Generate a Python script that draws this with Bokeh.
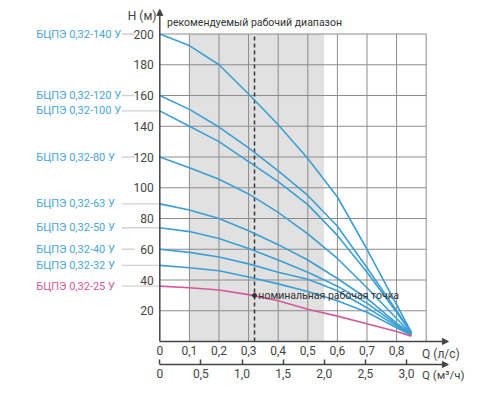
from bokeh.plotting import figure
from bokeh.models import Range1d, LinearAxis, FixedTicker, Arrow, NormalHead, ColumnDataSource
from bokeh.core.properties import value
from bokeh.embed import file_html
from bokeh.resources import INLINE

# ---- data ----
q = [0, 0.1, 0.2, 0.3, 0.4, 0.5, 0.6, 0.7, 0.8, 0.85]
h_140 = [200, 192.5, 180, 161, 141, 119, 94, 60, 24, 6]
h_120 = [160, 151, 139.5, 126, 111, 95, 75, 48, 20, 6]
h_100 = [150, 140, 130, 117, 104, 89, 69, 45, 19, 5.5]
h_80 = [120, 113, 105.5, 96, 84, 70, 54, 35, 15, 5]
h_63 = [89.5, 85.5, 80, 72, 63, 53, 41, 28, 12, 5]
h_50 = [74, 71.5, 67, 60.5, 53, 45, 36, 25, 11, 4.5]
h_40 = [60, 58, 55, 50.5, 45, 40.5, 33, 22, 10, 4.5]
h_32 = [49.5, 48, 46, 42, 37.5, 32.5, 26.5, 19, 9, 4]
h_25 = [36, 35, 33.5, 30.5, 26.5, 21, 16.5, 11.5, 6.5, 3.5]

models = ["БЦПЭ 0,32-140 У", "БЦПЭ 0,32-120 У", "БЦПЭ 0,32-100 У", "БЦПЭ 0,32-80 У",
          "БЦПЭ 0,32-63 У", "БЦПЭ 0,32-50 У", "БЦПЭ 0,32-40 У", "БЦПЭ 0,32-32 У",
          "БЦПЭ 0,32-25 У"]
series = [h_140, h_120, h_100, h_80, h_63, h_50, h_40, h_32, h_25]

q_ticks = [0, 0.1, 0.2, 0.3, 0.4, 0.5, 0.6, 0.7, 0.8]
q_tick_labels = ["0", "0,1", "0,2", "0,3", "0,4", "0,5", "0,6", "0,7", "0,8"]
q_grid = [0.1, 0.2, 0.3, 0.4, 0.5, 0.6, 0.7, 0.8, 0.9]
h_ticks = [20, 40, 60, 80, 100, 120, 140, 160, 180, 200]
m3h_ticks = [0, 0.5, 1.0, 1.5, 2.0, 2.5, 3.0]
m3h_tick_labels = ["0", "0,5", "1,0", "1,5", "2,0", "2,5", "3,0"]

range_lo, range_hi = 0.1, 0.555
nominal_q, nominal_h = 0.32, 30

# ---- styles ----
BLUE = "#3b9fd4"
BLUE_TXT = "#4aa6d8"
PINK = "#d4589a"
GRID = "#8c8c8c"
AX = "#444444"
FONT = value("Roboto")

x0, x1 = -0.5382, 1.0970
y0, y1 = -27.96, 221.8
M3_AXIS_Y = -14.96

p = figure(width=484, height=384, x_range=Range1d(x0, x1), y_range=Range1d(y0, y1),
           output_backend="svg", toolbar_location=None, x_axis_type=None, y_axis_type=None,
           min_border=0, outline_line_color=None, title=None)
p.grid.visible = False
p.extra_x_ranges = {"m3h": Range1d(x0 * 3.6, x1 * 3.6)}

gtop = max(h_ticks)
gright = max(q_grid)

# recommended range band
p.quad(left=[range_lo], right=[range_hi], bottom=[0], top=[gtop], fill_color="#e1e1e1", line_color=None)

# grid
p.segment(x0=q_grid, y0=[0] * len(q_grid), x1=q_grid, y1=[gtop] * len(q_grid), line_color=GRID, line_width=1)
p.segment(x0=[0] * len(h_ticks), y0=h_ticks, x1=[gright] * len(h_ticks), y1=h_ticks, line_color=GRID, line_width=1)

# nominal dashed line
p.segment(x0=[nominal_q], y0=[0], x1=[nominal_q], y1=[gtop], line_color="#333333", line_width=1.5, line_dash="4 3")

# leaders and labels
starts = [s[0] for s in series]
colors = [BLUE] * (len(series) - 1) + [PINK]
txt_colors = [BLUE_TXT] * (len(series) - 1) + [PINK]
lead_end = [-0.085 if s in h_ticks else 0 for s in starts]
p.segment(x0=[-0.128] * len(starts), y0=starts, x1=lead_end, y1=starts, line_color="#d2d2d2", line_width=1.3)

lab_src = ColumnDataSource(dict(x=[-0.4176] * len(starts), y=starts, text=models, color=txt_colors))
p.text(x="x", y="y", text="text", text_color="color", source=lab_src, text_font=FONT,
       text_font_size="11px", text_baseline="middle", text_align="left")

# curves
for h, c in zip(series, colors):
    p.line(q, h, line_color=c, line_width=1.6)

# nominal point
p.scatter([nominal_q], [nominal_h], size=4, color="#333333")

# axes
ax_q = LinearAxis(fixed_location=0, ticker=FixedTicker(ticks=q_ticks),
                  major_label_overrides=dict(zip(q_ticks, q_tick_labels)),
                  major_tick_in=0, major_tick_out=0, minor_tick_in=0, minor_tick_out=0,
                  axis_line_color=None, major_label_standoff=4,
                  major_label_text_font="Roboto", major_label_text_font_size="12px",
                  major_label_text_color=AX)
p.add_layout(ax_q, "below")

ax_m = LinearAxis(x_range_name="m3h", fixed_location=M3_AXIS_Y, ticker=FixedTicker(ticks=m3h_ticks),
                  major_label_overrides=dict(zip(m3h_ticks, m3h_tick_labels)),
                  major_tick_in=5, major_tick_out=0, minor_tick_in=0, minor_tick_out=0,
                  major_tick_line_color=AX, major_tick_line_width=1.5,
                  axis_line_color=None, major_label_standoff=4,
                  major_label_text_font="Roboto", major_label_text_font_size="12px",
                  major_label_text_color=AX)
p.add_layout(ax_m, "below")

ax_h = LinearAxis(fixed_location=0, ticker=FixedTicker(ticks=h_ticks),
                  major_tick_in=0, major_tick_out=0, minor_tick_in=0, minor_tick_out=0,
                  axis_line_color=None, major_label_standoff=6,
                  major_label_text_font="Roboto", major_label_text_font_size="12px",
                  major_label_text_color=AX)
p.add_layout(ax_h, "left")

# axis lines with arrow heads
for xs, ys, xe, ye in [(0, 0, 0.975, 0), (0, M3_AXIS_Y, 0.975, M3_AXIS_Y), (0, 0, 0, 216)]:
    p.add_layout(Arrow(end=NormalHead(size=6, fill_color=AX, line_color=AX, line_width=1),
                       x_start=xs, y_start=ys, x_end=xe, y_end=ye, line_color=AX, line_width=1.5))

# annotation texts
p.text(x=[-0.011], y=[211.6], text=["H (м)"], text_font=FONT, text_font_size="12px",
       text_color=AX, text_align="right", text_baseline="middle")
p.text(x=[nominal_q], y=[207.5], text=["рекомендуемый рабочий диапазон"], text_font=FONT,
       text_font_size="10.5px", text_color="#333333", text_align="center", text_baseline="middle")
p.text(x=[0.886], y=[-7.8], text=["Q (л/с)"], text_font=FONT, text_font_size="12px",
       text_color=AX, text_align="left", text_baseline="middle")
p.text(x=[0.886], y=[-21.8], text=["Q (м³/ч)"], text_font=FONT, text_font_size="11.5px",
       text_color=AX, text_align="left", text_baseline="middle")
p.text(x=[nominal_q + 0.013], y=[nominal_h], text=["номинальная рабочая точка"], text_font=FONT,
       text_font_size="10.5px", text_color="#333333", text_align="left", text_baseline="middle")

open("out.html", "w").write(file_html(p, INLINE))
